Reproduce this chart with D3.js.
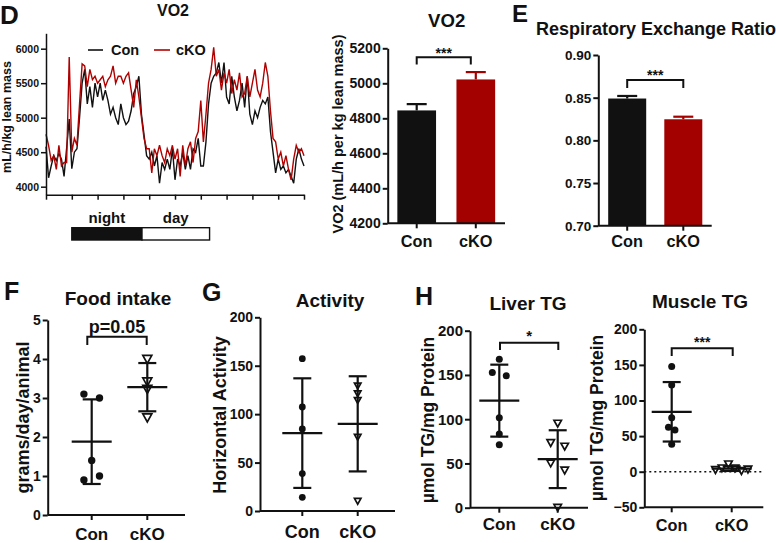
<!DOCTYPE html>
<html><head><meta charset="utf-8">
<script src="https://cdn.jsdelivr.net/npm/d3@7"></script>
<style>
body{margin:0;background:#fff;}
svg{display:block;font-family:"Liberation Sans",Arial,sans-serif;font-weight:bold;}
</style></head><body>
<svg id="c" width="776" height="543"></svg>
<script>
// ---------- DATA ----------
const groups = ["Con", "cKO"];
// D: VO2 time course, 30-min bins over 50 h
const hours = d3.range(0, 50.01, 0.5);
const vo2Con = [4580,4130,4300,4450,4380,4480,4400,4150,4560,4980,
  4260,4500,4550,5000,5500,5700,5200,5450,5150,5500,
  5300,5500,5250,5400,5250,5050,5150,5000,4900,5200,
  5000,4900,4950,5100,5350,5450,5600,5050,4750,4450,
  4400,4500,4300,4450,4050,4350,4250,4400,4250,4550,
  4100,4400,4300,4500,4250,4450,4250,4550,4500,4700,
  4300,4300,4650,5200,5500,5600,5650,5800,5500,5800,
  5300,5200,5600,5300,5100,5250,5500,5150,5600,5050,
  4900,5100,5000,5150,5250,5200,5300,4800,4500,4200,
  4400,4250,4300,4200,4250,4150,4050,4400,4550,4400,4300];
const vo2CKO = [4760,4600,4380,4450,4250,4600,4300,4350,4350,5880,
  4500,4700,4600,5200,5780,5750,5450,5700,5550,5600,
  5500,5550,5600,5450,5550,5600,5750,5500,5600,5600,
  5500,5600,5650,5400,5150,5550,5300,5000,4700,4550,
  4550,4200,4550,4450,4600,4450,4350,4550,4450,4600,
  4400,4550,4150,4600,4300,4550,4650,4350,4700,4800,
  5250,4650,5050,5500,5700,6020,5600,5700,5400,5650,
  5500,5700,5350,5550,5400,5650,5300,5350,5600,5300,
  5500,5700,5400,5300,5500,5800,5600,5100,4700,4650,
  4400,4500,4300,4450,4250,4100,4400,4600,4500,4550,4450];
const lightPhases = [{label: "night", start: 5, end: 18.6, dark: true},
                     {label: "day", start: 18.6, end: 31.7, dark: false}];
const vo2YTicks = [4000, 4500, 5000, 5500, 6000];

// D: VO2 bar
const vo2Mean = [4845, 5022];
const vo2Sem = [36, 42];
const vo2BarTicks = [4200, 4400, 4600, 4800, 5000, 5200];
// E: RER
const rerMean = [0.849, 0.8247];
const rerSem = [0.003, 0.003];
const rerTicks = [0.70, 0.75, 0.80, 0.85, 0.90];
// F: food intake
const foodCon = [0.9, 1.0, 1.4, 3.1, 3.0];
const foodCKO = [3.99, 3.41, 3.22, 2.49];
const foodTicks = [0, 1, 2, 3, 4, 5];
// G: activity
const actCon = [157.3, 107.4, 84.7, 38.6, 14.1];
const actCKO = [129, 121, 114, 76, 10];
const actTicks = [0, 50, 100, 150, 200];
// H: liver TG
const liverCon = [167.6, 152.9, 149.2, 101.7, 83.2, 71.2];
const liverCKO = [95, 73, 69, 50, 42, 0];
const liverTicks = [0, 50, 100, 150, 200];
// H: muscle TG
const muscleCon = [147.6, 121.8, 75.9, 62.4, 58.6, 38.5];
const muscleCKO = [2.3, 4.7, 10.3, 4.7, 0.9, 3.0];
const muscleTicks = [-50, 0, 50, 100, 150, 200];

// ---------- DRAW ----------
const svg = d3.select("#c");
const INK = "#111", RED = "#a30000";

function text(x, y, s, fs, anchor = "middle", rot = 0, fill = INK) {
  const t = svg.append("text").attr("x", x).attr("y", y).text(s)
    .attr("font-size", fs).attr("text-anchor", anchor).attr("fill", fill);
  if (rot) t.attr("transform", `rotate(${rot},${x},${y})`);
  return t;
}
function yAxis(y, x0, ticks, fmt, fs, sw) {
  const g = svg.append("g").attr("transform", `translate(${x0},0)`)
    .call(d3.axisLeft(y).tickValues(ticks).tickFormat(fmt).tickSize(5).tickSizeOuter(0).tickPadding(2));
  g.attr("font-family", null).attr("font-size", fs);
  g.selectAll("text").attr("fill", INK);
  g.selectAll("line,path").attr("stroke", INK).attr("stroke-width", sw);
  return g;
}
function xCatAxis(x, y0, x0, x1, fs, sw, labY) {
  svg.append("line").attr("x1", x0).attr("x2", x1).attr("y1", y0).attr("y2", y0)
    .attr("stroke", INK).attr("stroke-width", sw);
  groups.forEach(gname => {
    svg.append("line").attr("x1", x(gname)).attr("x2", x(gname)).attr("y1", y0).attr("y2", y0 + 5)
      .attr("stroke", INK).attr("stroke-width", sw);
    text(x(gname), labY, gname, fs);
  });
}
function bracket(x1, x2, yTop, yLeg, label, labY, fs) {
  svg.append("path").attr("d", `M${x1},${yLeg}V${yTop}H${x2}V${yLeg}`)
    .attr("fill", "none").attr("stroke", INK).attr("stroke-width", 2);
  text((x1 + x2) / 2, labY, label, fs);
}

// ----- Panel D: time course -----
{
  const x = d3.scaleLinear().domain([0, 50]).range([46, 304]);
  const y = d3.scaleLinear().domain([3884, 6223]).range([194.7, 33.3]);
  const line = d3.line().x((d, i) => x(hours[i])).y(d => y(d));
  svg.append("path").datum(vo2Con).attr("d", line).attr("fill", "none").attr("stroke", INK).attr("stroke-width", 1.4);
  svg.append("path").datum(vo2CKO).attr("d", line).attr("fill", "none").attr("stroke", "#b00000").attr("stroke-width", 1.4);
  yAxis(y, 46, vo2YTicks, d3.format("d"), 10.5, 1.5);
  const gx = svg.append("g").attr("transform", "translate(0,194.7)")
    .call(d3.axisBottom(x).tickValues(d3.range(0, 51, 5)).tickFormat("").tickSize(5).tickSizeOuter(0));
  gx.selectAll("line,path").attr("stroke", INK).attr("stroke-width", 1.5);
  // legend
  svg.append("line").attr("x1", 88).attr("x2", 103).attr("y1", 50).attr("y2", 50).attr("stroke", INK).attr("stroke-width", 1.6);
  text(111, 55, "Con", 14.5, "start");
  svg.append("line").attr("x1", 154).attr("x2", 170).attr("y1", 50).attr("y2", 50).attr("stroke", "#b00000").attr("stroke-width", 1.6);
  text(176, 55, "cKO", 14.5, "start");
  text(173, 16, "VO2", 16);
  text(0, 24, "D", 26, "start");
  text(11, 117, "mL/h/kg lean mass", 12.5, "middle", -90);
  // night/day bar
  lightPhases.forEach(p => {
    svg.append("rect").attr("x", x(p.start)).attr("y", 227.7).attr("width", x(p.end) - x(p.start)).attr("height", 12.3)
      .attr("fill", p.dark ? INK : "#fff").attr("stroke", INK).attr("stroke-width", 1.4);
    text((x(p.start) + x(p.end)) / 2, 223, p.label, 15);
  });
}

// ----- Bar panels -----
function barPanel(cfg) {
  const y = d3.scaleLinear().domain(cfg.dom).range(cfg.yr);
  const x = d3.scalePoint().domain(groups).range(cfg.cx);
  groups.forEach((gname, i) => {
    const m = cfg.mean[i], s = cfg.sem[i], col = i ? RED : INK;
    svg.append("rect").attr("x", x(gname) - cfg.bw / 2).attr("y", y(m)).attr("width", cfg.bw)
      .attr("height", y(cfg.dom[0]) - y(m)).attr("fill", col);
    svg.append("line").attr("x1", x(gname)).attr("x2", x(gname)).attr("y1", y(m)).attr("y2", y(m + s))
      .attr("stroke", col).attr("stroke-width", 2.2);
    svg.append("line").attr("x1", x(gname) - 10).attr("x2", x(gname) + 10).attr("y1", y(m + s)).attr("y2", y(m + s))
      .attr("stroke", col).attr("stroke-width", 2.2);
  });
  yAxis(y, cfg.ax[0], cfg.ticks, cfg.fmt, cfg.tfs, 2);
  xCatAxis(x, cfg.yr[0], cfg.ax[0], cfg.ax[1], 16.3, 2, cfg.labY);
  return {x, y};
}
{
  const p = barPanel({dom: [4200, 5200], yr: [223.3, 48.3], cx: [416.7, 475.8], bw: 38.7,
    mean: vo2Mean, sem: vo2Sem, ticks: vo2BarTicks, fmt: d3.format("d"), tfs: 14, ax: [387.7, 505], labY: 247});
  bracket(p.x("Con"), p.x("cKO") - 5, 57.3, 64.5, "***", 58, 14);
  text(446.7, 26.7, "VO2", 18.6);
  text(343, 134, "VO2 (mL/h per kg lean mass)", 14.5, "middle", -90);
}
{
  const p = barPanel({dom: [0.7, 0.9], yr: [225.7, 55], cx: [627.2, 683.3], bw: 38,
    mean: rerMean, sem: rerSem, ticks: rerTicks, fmt: d3.format(".2f"), tfs: 13.5, ax: [598.3, 711.7], labY: 247.3});
  bracket(p.x("Con"), p.x("cKO"), 80, 88, "***", 79.5, 14);
  text(536, 35, "Respiratory Exchange Ratio", 18, "start");
  text(512, 22, "E", 24, "start");
}

// ----- Dot-plot panels -----
function swarmOffsets(vals, y, thresh, step) {
  const idx = d3.range(vals.length).sort((a, b) => d3.descending(vals[a], vals[b]));
  const off = new Array(vals.length).fill(0);
  let grp = [idx[0]];
  const flush = () => {
    grp.sort((a, b) => a - b);
    grp.forEach((k, j) => off[k] = (j - (grp.length - 1) / 2) * step);
  };
  for (let j = 1; j < idx.length; j++) {
    if (Math.abs(y(vals[idx[j]]) - y(vals[idx[j - 1]])) < thresh) grp.push(idx[j]);
    else { flush(); grp = [idx[j]]; }
  }
  flush();
  return off;
}
function dotPanel(cfg) {
  const y = d3.scaleLinear().domain(cfg.dom).range(cfg.yr);
  const x = d3.scalePoint().domain(groups).range(cfg.cx);
  if (cfg.zeroLine) {
    svg.append("line").attr("x1", cfg.ax[0]).attr("x2", cfg.ax[1]).attr("y1", y(0)).attr("y2", y(0))
      .attr("stroke", INK).attr("stroke-width", 1.5).attr("stroke-dasharray", "2,3");
  }
  [cfg.con, cfg.cko].forEach((vals, gi) => {
    const gname = groups[gi], cx = x(gname);
    const off = swarmOffsets(vals, y, cfg.thresh, cfg.step);
    vals.forEach((v, k) => {
      if (gi === 0) {
        svg.append("circle").attr("cx", cx + off[k]).attr("cy", y(v)).attr("r", cfg.r).attr("fill", INK);
      } else {
        const w = cfg.tw, h = w * 0.9;
        svg.append("path").attr("d", `M${-w / 2},${-h / 2}L${w / 2},${-h / 2}L0,${h / 2}Z`)
          .attr("transform", `translate(${cx + off[k]},${y(v)})`)
          .attr("fill", "#fff").attr("stroke", INK).attr("stroke-width", 1.7).attr("stroke-linejoin", "miter");
      }
    });
    const m = d3.mean(vals), sd = d3.deviation(vals);
    const sw = 2.2;
    svg.append("line").attr("x1", cx - 20).attr("x2", cx + 20).attr("y1", y(m)).attr("y2", y(m)).attr("stroke", INK).attr("stroke-width", sw);
    svg.append("line").attr("x1", cx).attr("x2", cx).attr("y1", y(m - sd)).attr("y2", y(m + sd)).attr("stroke", INK).attr("stroke-width", sw);
    [m - sd, m + sd].forEach(e => svg.append("line").attr("x1", cx - 9).attr("x2", cx + 9).attr("y1", y(e)).attr("y2", y(e)).attr("stroke", INK).attr("stroke-width", sw));
  });
  yAxis(y, cfg.ax[0], cfg.ticks, d3.format("d"), cfg.tfs, 2);
  xCatAxis(x, cfg.yr[0], cfg.ax[0], cfg.ax[1], cfg.xfs, 2, cfg.labY);
  text(cfg.title[0], cfg.title[1], cfg.title[2], 19);
  text(cfg.ylab[0], cfg.ylab[1], cfg.ylab[2], cfg.ylfs, "middle", -90);
  if (cfg.letter) text(cfg.letter[0], cfg.letter[1], cfg.letter[2], 25, "start");
  return {x, y};
}
{
  dotPanel({dom: [0, 5], yr: [515, 320], cx: [91.7, 147.3], ax: [47.7, 185], con: foodCon, cko: foodCKO,
    thresh: 7, step: 15.6, r: 3.7, tw: 9, ticks: foodTicks, tfs: 14, xfs: 17, labY: 540,
    title: [118, 305, "Food intake"], ylab: [29, 417.5, "grams/day/animal"], ylfs: 18, letter: [4, 300, "F"]});
  bracket(87.3, 146.7, 336.7, 345, "p=0.05", 333.3, 18);
}
{
  dotPanel({dom: [0, 200], yr: [511, 317.3], cx: [302.3, 357.7], ax: [260, 395], con: actCon, cko: actCKO,
    thresh: 5, step: 12, r: 3.4, tw: 6.5, ticks: actTicks, tfs: 14, xfs: 18, labY: 538,
    title: [330, 306.7, "Activity"], ylab: [226, 415, "Horizontal Activity"], ylfs: 18, letter: [202, 301, "G"]});
}
{
  dotPanel({dom: [0, 200], yr: [507.7, 330.7], cx: [499.3, 557.7], ax: [470, 588], con: liverCon, cko: liverCKO,
    thresh: 8, step: 14, r: 3.5, tw: 7.5, ticks: liverTicks, tfs: 15, xfs: 17, labY: 530,
    title: [528, 310, "Liver TG"], ylab: [434, 420, "µmol TG/mg Protein"], ylfs: 17.5, letter: [415, 305, "H"]});
  bracket(500, 558.3, 342.7, 350, "*", 341, 15);
}
{
  dotPanel({dom: [-50, 200], yr: [507.3, 329.3], cx: [671.7, 731.7], ax: [644.3, 763.3], con: muscleCon, cko: muscleCKO,
    thresh: 8, step: 6.5, r: 3.5, tw: 7.5, ticks: muscleTicks, tfs: 14, xfs: 16.3, labY: 530.7, zeroLine: true,
    title: [700, 308.3, "Muscle TG"], ylab: [603, 418, "µmol TG/mg Protein"], ylfs: 17.5});
  bracket(671.7, 732.7, 348.3, 356, "***", 347, 14);
}
</script>
</body></html>
